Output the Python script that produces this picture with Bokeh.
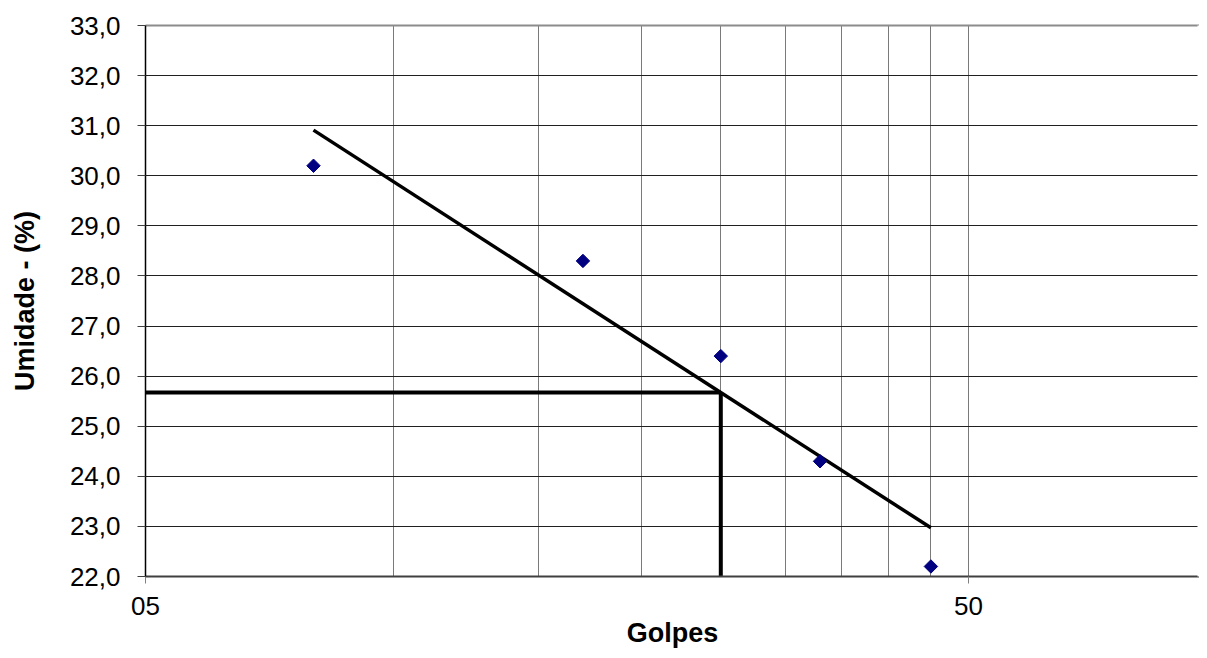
import numpy as np
from bokeh.plotting import figure
from bokeh.models import (Range1d, FixedTicker, CustomJSTickFormatter, LogAxis,
                          LinearAxis, ColumnDataSource)
from bokeh.embed import file_html
from bokeh.resources import INLINE

# ---- data ----
golpes = [8, 17, 25, 33, 45]
umidade = [30.2, 28.3, 26.4, 24.3, 22.2]
golpes_ref = 25                     # standard 25 blows
x_major_ticks = [5, 50]
x_grid_ticks = [10, 15, 20, 25, 30, 35, 40, 45, 50]
y_ticks = list(range(22, 34))

# log-linear trend (Excel logarithmic trendline)
slope, inter = np.polyfit(np.log10(golpes), umidade, 1)
trend_x = [min(golpes), max(golpes)]
trend_y = [slope * np.log10(v) + inter for v in trend_x]
LL = slope * np.log10(golpes_ref) + inter

FONT = "Liberation Sans"
W, H = 1199, 650

p = figure(width=W, height=H, x_axis_type="log",
           x_range=Range1d(5, 95.4), y_range=Range1d(22, 33),
           output_backend="svg", toolbar_location=None,
           min_border_left=145, min_border_right=0,
           min_border_top=25, min_border_bottom=74)
p.outline_line_color = None
p.background_fill_color = "white"
p.border_fill_color = "white"
p.grid.visible = False

# grid lines drawn as span glyphs
p.vspan(x=x_grid_ticks, line_color="#7a7a7a", line_width=1, level="underlay")
p.hspan(y=y_ticks, line_color="#202020", line_width=1, level="underlay")

# x axis
xa = p.xaxis[0]
xa.ticker = FixedTicker(ticks=x_major_ticks, minor_ticks=[])
xa.formatter = CustomJSTickFormatter(code="return tick < 10 ? '0' + tick : '' + tick;")
xa.axis_label = "Golpes"
xa.axis_label_text_font = FONT
xa.axis_label_text_font_style = "bold"
xa.axis_label_text_font_size = "27px"
xa.axis_label_text_color = "black"
xa.axis_label_standoff = 0
xa.major_label_text_font = FONT
xa.major_label_text_font_size = "26px"
xa.major_label_text_color = "black"
xa.major_label_standoff = 13
xa.major_tick_in = 0
xa.major_tick_out = 7
xa.major_tick_line_color = "#808080"
xa.minor_tick_line_color = None
xa.axis_line_color = "#404040"
xa.axis_line_width = 2

# y axis
ya = p.yaxis[0]
ya.ticker = FixedTicker(ticks=y_ticks, minor_ticks=[])
ya.formatter = CustomJSTickFormatter(code="return tick.toFixed(1).replace('.', ',');")
ya.axis_label = "Umidade - (%)"
ya.axis_label_text_font = FONT
ya.axis_label_text_font_style = "bold"
ya.axis_label_text_font_size = "27px"
ya.axis_label_text_color = "black"
ya.axis_label_standoff = 27
ya.major_label_text_font = FONT
ya.major_label_text_font_size = "26px"
ya.major_label_text_color = "black"
ya.major_label_standoff = 17
ya.major_tick_in = 0
ya.major_tick_out = 8
ya.major_tick_line_color = "#404040"
ya.axis_line_color = "black"
ya.axis_line_width = 1.5

# top border line (frame continues beyond the window on the right)
top = LogAxis(ticker=FixedTicker(ticks=[], minor_ticks=[]),
              axis_line_color="#8c8c8c", axis_line_width=2,
              major_tick_line_color=None, minor_tick_line_color=None,
              major_label_text_font_size="0px")
p.add_layout(top, "above")

# invisible right edge (the chart area runs off the right of the picture)
right = LinearAxis(ticker=FixedTicker(ticks=[], minor_ticks=[]),
                   axis_line_color="white", axis_line_width=4,
                   major_tick_line_color=None, minor_tick_line_color=None,
                   major_label_text_font_size="0px")
p.add_layout(right, "right")

# trend line
p.line(trend_x, trend_y, line_color="black", line_width=3.5)

# liquid-limit reference lines
p.line([5, golpes_ref], [LL, LL], line_color="black", line_width=4)
p.line([golpes_ref, golpes_ref], [22, LL], line_color="black", line_width=4)

# data points (diamonds)
src = ColumnDataSource(dict(x=golpes, y=umidade))
p.scatter("x", "y", source=src, marker="square", angle=np.pi / 4, size=9.5,
          fill_color="#000080", line_color="#000080")

open("out.html", "w").write(file_html(p, INLINE))
